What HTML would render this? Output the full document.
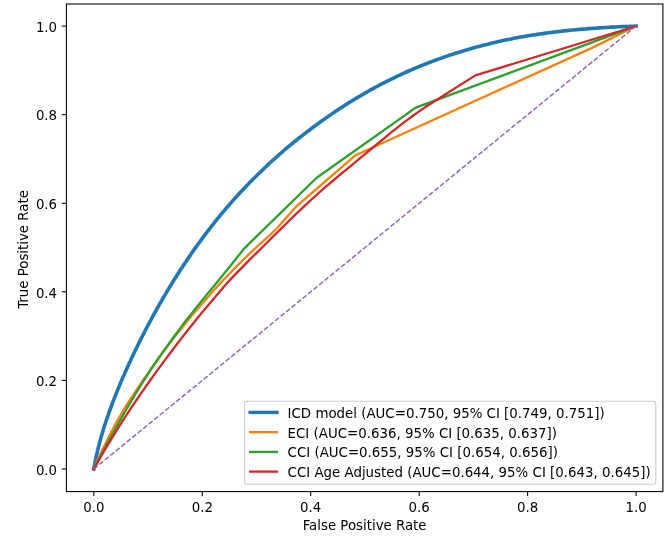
<!DOCTYPE html>
<html><head><meta charset="utf-8"><title>ROC curves</title>
<style>
html,body{margin:0;padding:0;background:#fff;}
svg{display:block;}
text{font-family:"DejaVu Sans","Liberation Sans",sans-serif;font-size:13.33px;fill:#000;}
</style></head><body>
<svg width="667" height="540" viewBox="0 0 667 540">
<rect width="667" height="540" fill="#fff"/>

<g fill="none" stroke-linejoin="round" stroke-linecap="butt">
<polyline points="93.8,469.0 93.9,468.7 93.9,468.2 94.0,467.7 94.1,467.0 94.3,466.4 94.4,465.7 94.5,465.0 94.7,464.2 94.8,463.4 95.0,462.6 95.1,461.8 95.3,460.9 95.5,460.0 95.7,459.1 95.9,458.2 96.1,457.3 96.3,456.4 96.5,455.4 96.7,454.4 96.9,453.5 97.1,452.5 97.4,451.5 97.6,450.4 97.9,449.4 98.1,448.4 98.4,447.3 98.7,446.2 98.9,445.2 99.2,444.1 99.5,443.0 99.8,441.9 100.1,440.8 100.4,439.7 100.7,438.6 101.0,437.5 101.3,436.3 101.7,435.2 102.0,434.0 102.4,432.9 102.7,431.7 103.1,430.6 103.4,429.4 103.8,428.2 104.1,427.0 104.5,425.8 104.9,424.7 105.3,423.5 105.7,422.3 106.1,421.0 106.5,419.8 106.9,418.6 107.3,417.4 107.7,416.2 108.2,414.9 108.6,413.7 109.0,412.5 109.5,411.2 109.9,410.0 110.4,408.7 110.8,407.5 111.3,406.2 111.8,404.9 112.2,403.7 112.7,402.4 113.2,401.1 113.7,399.9 114.2,398.6 114.7,397.3 115.2,396.0 115.7,394.7 116.2,393.4 116.8,392.1 117.3,390.8 117.8,389.5 118.4,388.2 118.9,386.9 119.4,385.6 120.0,384.3 120.5,382.9 121.1,381.6 121.7,380.3 122.2,379.0 122.8,377.6 123.4,376.3 124.0,375.0 124.6,373.6 125.2,372.3 125.7,371.0 126.4,369.6 127.0,368.3 127.6,366.9 128.2,365.6 128.8,364.2 129.4,362.8 130.1,361.5 130.7,360.1 131.3,358.8 132.0,357.4 132.6,356.0 133.3,354.7 133.9,353.3 134.6,351.9 135.2,350.5 135.9,349.1 136.6,347.8 137.3,346.4 137.9,345.0 138.6,343.6 139.3,342.2 140.0,340.8 140.7,339.4 141.4,338.0 142.1,336.6 142.8,335.2 143.6,333.9 144.3,332.4 145.0,331.0 145.7,329.6 146.5,328.2 147.2,326.8 147.9,325.4 148.7,324.0 149.4,322.6 150.2,321.2 151.0,319.8 151.7,318.4 152.5,316.9 153.3,315.5 154.0,314.1 154.8,312.7 155.6,311.3 156.4,309.8 157.2,308.4 158.0,307.0 158.8,305.6 159.6,304.1 160.4,302.7 161.3,301.3 162.1,299.9 162.9,298.4 163.7,297.0 164.6,295.6 165.4,294.1 166.3,292.7 167.1,291.3 168.0,289.9 168.8,288.4 169.7,287.0 170.6,285.6 171.5,284.1 172.3,282.7 173.2,281.3 174.1,279.8 175.0,278.4 175.9,277.0 176.8,275.5 177.7,274.1 178.7,272.7 179.6,271.2 180.5,269.8 181.4,268.4 182.4,266.9 183.3,265.5 184.3,264.1 185.2,262.6 186.2,261.2 187.1,259.8 188.1,258.4 189.1,256.9 190.1,255.5 191.0,254.1 192.0,252.6 193.0,251.2 194.0,249.8 195.0,248.4 196.1,246.9 197.1,245.5 198.1,244.1 199.1,242.7 200.2,241.3 201.2,239.8 202.3,238.4 203.3,237.0 204.4,235.6 205.4,234.2 206.5,232.8 207.6,231.3 208.7,229.9 209.8,228.5 210.9,227.1 212.0,225.7 213.1,224.3 214.2,222.9 215.3,221.5 216.4,220.1 217.5,218.7 218.7,217.3 219.8,215.9 221.0,214.5 222.1,213.1 223.3,211.7 224.5,210.3 225.6,208.9 226.8,207.6 228.0,206.2 229.2,204.8 230.4,203.4 231.6,202.1 232.8,200.7 234.0,199.3 235.3,198.0 236.5,196.6 237.7,195.3 239.0,193.9 240.2,192.5 241.5,191.2 242.8,189.8 244.0,188.5 245.3,187.2 246.6,185.8 247.9,184.5 249.2,183.1 250.5,181.8 251.8,180.5 253.1,179.1 254.5,177.8 255.8,176.5 257.1,175.1 258.5,173.8 259.8,172.5 261.2,171.2 262.6,169.9 263.9,168.6 265.3,167.3 266.7,165.9 268.1,164.6 269.5,163.3 270.9,162.0 272.3,160.7 273.8,159.5 275.2,158.2 276.6,156.9 278.1,155.6 279.5,154.3 281.0,153.0 282.5,151.8 283.9,150.5 285.4,149.2 286.9,148.0 288.4,146.7 289.9,145.5 291.4,144.2 293.0,143.0 294.5,141.7 296.0,140.5 297.6,139.2 299.1,138.0 300.7,136.8 302.2,135.6 303.8,134.3 305.4,133.1 307.0,131.9 308.6,130.7 310.2,129.5 311.8,128.3 313.5,127.0 315.1,125.8 316.7,124.6 318.4,123.4 320.0,122.2 321.7,121.0 323.4,119.8 325.1,118.6 326.7,117.4 328.5,116.2 330.2,115.1 331.9,113.9 333.6,112.7 335.3,111.5 337.1,110.4 338.8,109.2 340.6,108.1 342.4,106.9 344.2,105.8 345.9,104.6 347.7,103.5 349.6,102.3 351.4,101.2 353.2,100.1 355.0,99.0 356.9,97.9 358.7,96.8 360.6,95.7 362.5,94.6 364.4,93.5 366.3,92.4 368.2,91.3 370.1,90.2 372.0,89.2 374.0,88.1 375.9,87.0 377.9,86.0 379.9,84.9 381.8,83.9 383.8,82.9 385.8,81.9 387.8,80.8 389.9,79.8 391.9,78.8 394.0,77.8 396.0,76.8 398.1,75.8 400.2,74.9 402.3,73.9 404.4,72.9 406.5,72.0 408.6,71.0 410.8,70.1 413.0,69.1 415.1,68.2 417.3,67.3 419.5,66.4 421.7,65.5 423.9,64.6 426.2,63.7 428.4,62.8 430.7,62.0 433.0,61.1 435.3,60.3 437.6,59.4 439.9,58.6 442.2,57.8 444.6,56.9 446.9,56.1 449.3,55.3 451.7,54.6 454.1,53.8 456.5,53.0 459.0,52.2 461.4,51.5 463.9,50.7 466.4,50.0 468.9,49.3 471.4,48.5 473.9,47.8 476.5,47.1 479.1,46.4 481.6,45.7 484.2,45.0 486.8,44.4 489.5,43.7 492.1,43.1 494.8,42.4 497.5,41.8 500.2,41.2 502.9,40.6 505.6,40.0 508.3,39.4 511.1,38.9 513.9,38.3 516.7,37.8 519.5,37.3 522.4,36.8 525.2,36.3 528.1,35.8 531.0,35.3 533.9,34.9 536.8,34.4 539.7,34.0 542.7,33.6 545.7,33.1 548.7,32.7 551.7,32.4 554.7,32.0 557.8,31.6 560.8,31.3 563.9,30.9 567.0,30.6 570.1,30.3 573.3,30.0 576.4,29.7 579.6,29.4 582.8,29.1 586.0,28.9 589.2,28.6 592.5,28.4 595.7,28.2 599.0,27.9 602.3,27.7 605.6,27.5 609.0,27.3 612.3,27.1 615.6,27.0 619.0,26.8 622.4,26.6 625.8,26.5 629.2,26.4 632.7,26.2 636.1,26.1" stroke="#1f77b4" stroke-width="3.6" stroke-linecap="square"/>
<polyline points="93.8,469.0 95.7,464.4 97.7,459.9 99.8,455.3 101.9,450.8 104.0,446.4 106.2,441.9 108.4,437.5 110.7,433.1 113.0,428.7 115.3,424.4 117.7,420.1 120.1,415.8 122.7,411.6 125.2,407.3 127.9,403.1 130.5,399.0 133.3,394.8 136.0,390.7 138.8,386.6 141.6,382.5 144.4,378.4 147.2,374.3 150.0,370.3 152.8,366.2 155.7,362.2 158.6,358.2 161.5,354.2 164.5,350.2 167.5,346.2 170.5,342.3 173.5,338.4 176.5,334.4 179.6,330.6 182.6,326.7 185.8,322.9 188.9,319.1 192.1,315.3 195.3,311.5 198.6,307.8 201.8,304.0 205.1,300.3 208.3,296.6 211.6,292.8 214.9,289.1 218.2,285.5 221.6,281.8 225.0,278.3 228.4,274.7 231.8,271.2 235.3,267.6 238.8,264.1 242.3,260.6 245.9,257.2 249.4,253.7 253.0,250.3 256.6,247.0 260.3,243.6 264.0,240.3 267.7,237.0 277.2,228.0 296.6,206.1 355.6,155.2 592.5,47.6 636.1,26.1" stroke="#ff7f0e" stroke-width="2.3" stroke-linecap="square"/>
<polyline points="93.8,469.0 95.9,465.0 98.0,460.9 100.1,456.9 102.2,452.9 104.3,448.9 106.4,444.9 108.6,440.9 110.8,436.9 113.0,433.0 115.2,429.0 117.4,425.1 119.6,421.1 121.9,417.2 124.1,413.3 126.4,409.3 128.7,405.4 131.0,401.5 133.3,397.6 135.6,393.7 138.0,389.9 140.4,386.0 142.8,382.2 145.2,378.3 147.7,374.5 150.1,370.7 152.6,367.0 155.2,363.2 157.7,359.5 160.3,355.7 162.9,352.0 165.5,348.3 168.2,344.6 170.8,341.0 173.5,337.3 176.2,333.7 178.9,330.0 181.6,326.4 184.3,322.8 187.1,319.2 189.9,315.6 192.7,312.1 195.5,308.5 198.4,305.0 201.2,301.4 204.1,297.9 206.9,294.4 209.8,290.9 212.7,287.4 215.6,283.9 218.5,280.4 221.4,276.9 224.2,273.4 227.1,269.9 229.9,266.4 232.8,262.8 235.6,259.3 238.4,255.8 241.2,252.2 244.1,248.6 316.7,177.7 415.7,107.6 636.1,26.1" stroke="#2ca02c" stroke-width="2.3" stroke-linecap="square"/>
<polyline points="93.8,469.0 96.5,464.1 99.3,459.3 102.1,454.5 104.9,449.7 107.8,444.9 110.7,440.1 113.6,435.3 116.5,430.6 119.5,425.9 122.5,421.2 125.5,416.5 128.5,411.8 131.6,407.2 134.7,402.6 137.9,398.0 141.0,393.4 144.2,388.8 147.4,384.2 150.7,379.7 153.9,375.1 157.1,370.6 160.4,366.1 163.7,361.6 167.1,357.1 170.4,352.7 173.8,348.2 177.2,343.8 180.6,339.4 184.0,335.0 187.4,330.6 190.9,326.2 194.4,321.9 197.9,317.6 201.4,313.2 205.0,309.0 208.6,304.7 212.2,300.4 215.8,296.2 219.4,291.9 223.0,287.7 226.7,283.5 230.5,279.4 234.3,275.4 238.2,271.4 242.1,267.4 246.0,263.4 249.9,259.4 253.9,255.5 257.9,251.6 261.8,247.7 265.8,243.8 269.8,239.8 273.7,235.9 277.7,232.0 281.6,228.1 285.6,224.2 289.6,220.3 293.6,216.4 297.6,212.5 301.7,208.6 305.7,204.8 309.8,201.0 313.9,197.3 318.1,193.5 322.2,189.9 326.5,186.2 330.7,182.6 335.0,179.0 339.2,175.4 343.5,171.9 347.8,168.3 352.1,164.8 356.5,161.2 360.7,157.7 365.0,154.1 369.3,150.5 373.6,147.0 377.9,143.4 382.2,139.8 386.5,136.3 390.8,132.7 395.1,129.3 399.5,125.8 403.9,122.4 408.4,119.1 412.9,115.8 417.4,112.6 422.0,109.4 426.6,106.2 475.3,75.4 636.1,26.1" stroke="#d62728" stroke-width="2.3" stroke-linecap="square"/>
<line x1="93.8" y1="469.0" x2="636.1" y2="26.1" stroke="#9467bd" stroke-width="1.5" stroke-dasharray="4.95 2.145"/>
</g>
<rect x="66.4" y="4.0" width="596.5" height="487.6" fill="none" stroke="#000" stroke-width="1.07"/>
<g stroke="#000" stroke-width="1.07">
<line x1="93.8" y1="491.6" x2="93.8" y2="495.9"/>
<line x1="66.4" y1="469.0" x2="61.7" y2="469.0"/>
<line x1="202.3" y1="491.6" x2="202.3" y2="495.9"/>
<line x1="66.4" y1="380.4" x2="61.7" y2="380.4"/>
<line x1="310.7" y1="491.6" x2="310.7" y2="495.9"/>
<line x1="66.4" y1="291.8" x2="61.7" y2="291.8"/>
<line x1="419.2" y1="491.6" x2="419.2" y2="495.9"/>
<line x1="66.4" y1="203.3" x2="61.7" y2="203.3"/>
<line x1="527.6" y1="491.6" x2="527.6" y2="495.9"/>
<line x1="66.4" y1="114.7" x2="61.7" y2="114.7"/>
<line x1="636.1" y1="491.6" x2="636.1" y2="495.9"/>
<line x1="66.4" y1="26.1" x2="61.7" y2="26.1"/>
</g>
<text x="93.8" y="511.5" text-anchor="middle">0.0</text>
<text x="57.1" y="474.7" text-anchor="end">0.0</text>
<text x="202.3" y="511.5" text-anchor="middle">0.2</text>
<text x="57.1" y="386.1" text-anchor="end">0.2</text>
<text x="310.7" y="511.5" text-anchor="middle">0.4</text>
<text x="57.1" y="297.5" text-anchor="end">0.4</text>
<text x="419.2" y="511.5" text-anchor="middle">0.6</text>
<text x="57.1" y="209.0" text-anchor="end">0.6</text>
<text x="527.6" y="511.5" text-anchor="middle">0.8</text>
<text x="57.1" y="120.4" text-anchor="end">0.8</text>
<text x="636.1" y="511.5" text-anchor="middle">1.0</text>
<text x="57.1" y="31.8" text-anchor="end">1.0</text>
<text x="364.6" y="529.5" text-anchor="middle">False Positive Rate</text>
<text transform="translate(27.8,249.5) rotate(-90)" text-anchor="middle">True Positive Rate</text>
<rect x="244.6" y="401.3" width="411.2" height="83.0" rx="2.8" ry="2.8" fill="#fff" fill-opacity="0.8" stroke="#ccc" stroke-width="1.07"/>
<line x1="250.2" y1="412.4" x2="276.9" y2="412.4" stroke="#1f77b4" stroke-width="3.4" stroke-linecap="square"/>
<text x="287.6" y="417.8" style="font-size:13.36px">ICD model (AUC=0.750, 95% CI [0.749, 0.751])</text>
<line x1="250.2" y1="432.1" x2="276.9" y2="432.1" stroke="#ff7f0e" stroke-width="2.3" stroke-linecap="square"/>
<text x="287.6" y="437.5" style="font-size:13.36px">ECI (AUC=0.636, 95% CI [0.635, 0.637])</text>
<line x1="250.2" y1="451.9" x2="276.9" y2="451.9" stroke="#2ca02c" stroke-width="2.3" stroke-linecap="square"/>
<text x="287.6" y="457.3" style="font-size:13.36px">CCI (AUC=0.655, 95% CI [0.654, 0.656])</text>
<line x1="250.2" y1="471.6" x2="276.9" y2="471.6" stroke="#d62728" stroke-width="2.3" stroke-linecap="square"/>
<text x="287.6" y="477.0" style="font-size:13.36px">CCI Age Adjusted (AUC=0.644, 95% CI [0.643, 0.645])</text>
</svg></body></html>
